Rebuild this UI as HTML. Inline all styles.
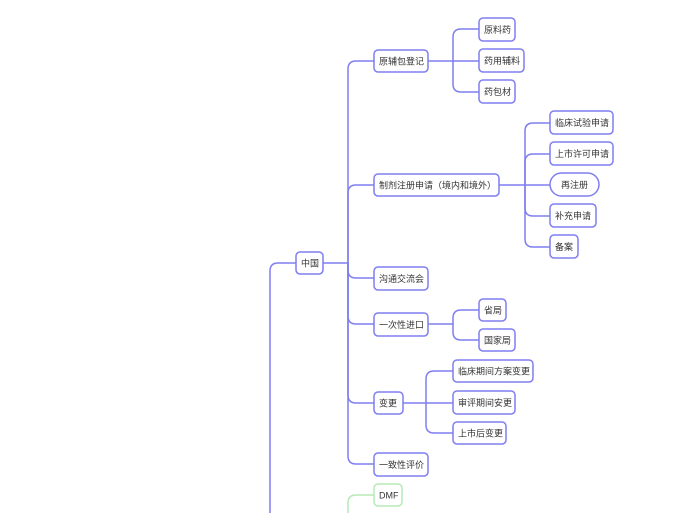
<!DOCTYPE html>
<html><head><meta charset="utf-8"><style>
html,body{margin:0;padding:0;background:#fff;}
svg{display:block}
text{font-family:"Liberation Sans","Noto Sans CJK SC",sans-serif;font-size:9px;fill:#333;}
</style></head><body>
<svg width="700" height="513" viewBox="0 0 700 513" xmlns="http://www.w3.org/2000/svg">
<g fill="none" stroke="#7f7ff0" stroke-width="1.5">
<path d="M270,513 V271 Q270,263 278,263 H296"/>
<path d="M323,263 H348"/>
<path d="M348,263 V69 Q348,61 356,61 H374"/>
<path d="M348,263 V193 Q348,185 356,185 H374"/>
<path d="M348,263 V270 Q348,278 356,278 H374"/>
<path d="M348,263 V316 Q348,324 356,324 H374"/>
<path d="M348,263 V395 Q348,403 356,403 H374"/>
<path d="M348,263 V456 Q348,464 356,464 H374"/>
<path d="M428,61 H453"/>
<path d="M453,61 V37 Q453,29 461,29 H479"/>
<path d="M453,61 H479"/>
<path d="M453,61 V84 Q453,92 461,92 H479"/>
<path d="M499,185 H525"/>
<path d="M525,185 V131 Q525,123 533,123 H550"/>
<path d="M525,185 V162 Q525,154 533,154 H550"/>
<path d="M525,185 H550"/>
<path d="M525,185 V208 Q525,216 533,216 H550"/>
<path d="M525,185 V239 Q525,247 533,247 H550"/>
<path d="M428,324 H453"/>
<path d="M453,324 V318 Q453,310 461,310 H479"/>
<path d="M453,324 V332 Q453,340 461,340 H479"/>
<path d="M403,403 H426"/>
<path d="M426,403 V379 Q426,371 434,371 H453"/>
<path d="M426,403 H453"/>
<path d="M426,403 V425 Q426,433 434,433 H453"/>
</g>
<path d="M348,513 V503 Q348,495 356,495 H374" fill="none" stroke="#b5eab5" stroke-width="1.5"/>
<g fill="#fff" stroke="#7f7ff0" stroke-width="1.5">
<rect x="296" y="252" width="27" height="22" rx="4"/>
<rect x="374" y="50" width="54" height="22" rx="4"/>
<rect x="479" y="18" width="36" height="23" rx="4"/>
<rect x="479" y="49" width="45" height="23" rx="4"/>
<rect x="479" y="80" width="36" height="23" rx="4"/>
<rect x="374" y="174" width="125" height="22" rx="4"/>
<rect x="550" y="111" width="63" height="23" rx="4"/>
<rect x="550" y="142" width="63" height="23" rx="4"/>
<rect x="550" y="173" width="49" height="23" rx="11.5"/>
<rect x="550" y="204" width="46" height="23" rx="4"/>
<rect x="550" y="235" width="28" height="23" rx="4"/>
<rect x="374" y="267" width="54" height="23" rx="4"/>
<rect x="374" y="313" width="54" height="23" rx="4"/>
<rect x="479" y="299" width="27" height="22" rx="4"/>
<rect x="479" y="329" width="36" height="22" rx="4"/>
<rect x="374" y="392" width="29" height="22" rx="4"/>
<rect x="453" y="360" width="80" height="22" rx="4"/>
<rect x="453" y="391" width="62" height="23" rx="4"/>
<rect x="453" y="422" width="53" height="22" rx="4"/>
<rect x="374" y="453" width="54" height="23" rx="4"/>
</g>
<rect x="374" y="484" width="28" height="22" rx="4" fill="#fff" stroke="#b5eab5" stroke-width="1.5"/>
<g>
<text x="301" y="266.5">中国</text>
<text x="379" y="64.5">原辅包登记</text>
<text x="484" y="33">原料药</text>
<text x="484" y="64">药用辅料</text>
<text x="484" y="95">药包材</text>
<text x="379" y="188.5">制剂注册申请（境内和境外）</text>
<text x="555" y="126">临床试验申请</text>
<text x="561" y="188">再注册</text>
<text x="555" y="157">上市许可申请</text>
<text x="555" y="219">补充申请</text>
<text x="555" y="250">备案</text>
<text x="379" y="282">沟通交流会</text>
<text x="379" y="328">一次性进口</text>
<text x="484" y="313.5">省局</text>
<text x="484" y="343.5">国家局</text>
<text x="379" y="406.5">变更</text>
<text x="458" y="374.5">临床期间方案变更</text>
<text x="458" y="406">审评期间安更</text>
<text x="458" y="436.5">上市后变更</text>
<text x="379" y="468">一致性评价</text>
<text x="379" y="498.5">DMF</text>
</g>
</svg>
</body></html>
